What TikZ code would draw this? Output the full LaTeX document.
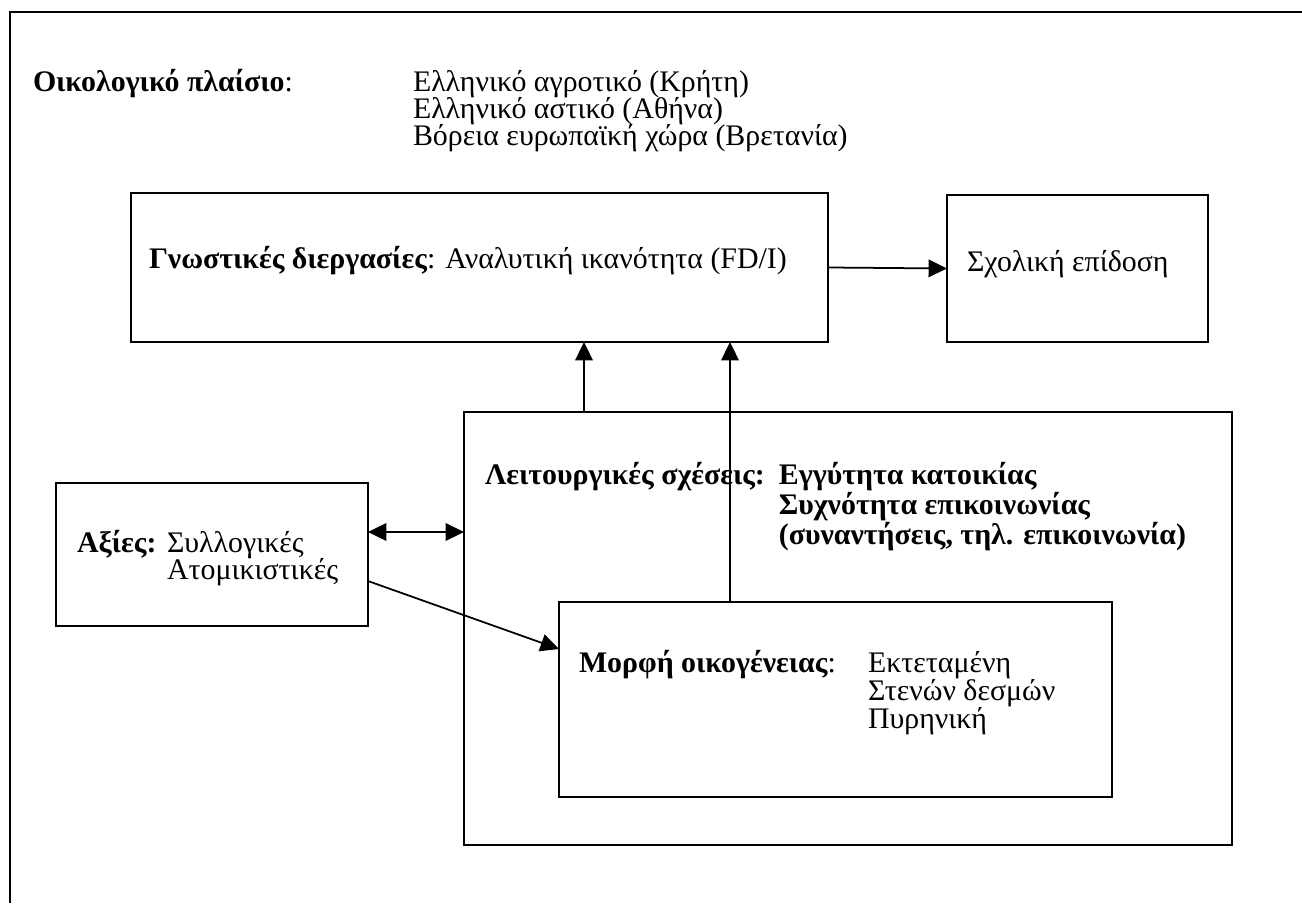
\documentclass[tikz,border=0pt]{standalone}
\usepackage{fontspec}
\setmainfont{Liberation Serif}
\usetikzlibrary{arrows.meta,positioning}
\newcommand{\stacklines}[2]{\vtop{\baselineskip=#1\lineskiplimit=-\maxdimen\lineskip=0pt\halign{##\hfil\cr#2\crcr}}}

\begin{document}
\begin{tikzpicture}[x=0.02cm,y=-0.02cm,>={Triangle[length=10.5pt,width=10pt]},line width=1pt]
			\tikzstyle{every node}=[inner sep=0pt,outer sep=0pt,font=\fontsize{17}{15.4}\selectfont]
			\tikzstyle{box}=[draw=black,line width=1.1pt,anchor=north west]
			\tikzstyle{txt}=[anchor=base west]
			
			\useasboundingbox (0,0) rectangle (1302,903);
			\draw[line width=1.2pt] (10,903) -- (10,12) -- (1302,12);
			
			\node[box,minimum width=13.94cm,minimum height=2.98cm] (cog)    at (131,193) {};
			\node[box,minimum width=5.22cm, minimum height=2.94cm] (school) at (947,195) {};
			\node[box,minimum width=15.36cm,minimum height=8.66cm] (func)   at (464,412) {};
			\node[box,minimum width=11.06cm,minimum height=3.9cm]  (fam)    at (559,602) {};
			\node[box,minimum width=6.24cm, minimum height=2.86cm] (vals)   at (56,483)  {};
			
			\node[txt] (eco)     at (33,91)  {\textbf{Οικολογικό πλαίσιο}:};
			\node[txt] (ecolist) at (413,91) {\stacklines{15.4pt}{Ελληνικό αγροτικό (Κρήτη)\cr Ελληνικό αστικό (Αθήνα)\cr Βόρεια ευρωπαϊκή χώρα (Βρετανία)}};
			\node[txt] (cogtxt)  at (149,268) {\textbf{Γνωστικές διεργασίες}: Αναλυτική ικανότητα (FD/I)};
			\node[txt] (schtxt)  at (967,271) {Σχολική επίδοση};
			\node[txt] (valtxt)  at (77,552)  {\textbf{Αξίες:}};
			\node[txt] (vallist) at (167,552) {\stacklines{15.4pt}{Συλλογικές\cr Ατομικιστικές}};
			\node[txt] (functxt) at (485,484) {\textbf{Λειτουργικές σχέσεις:}};
			\node[font=\bfseries\fontsize{17}{17}\selectfont] (funclist) [right=0.28cm of functxt.base east,anchor=base west] {\stacklines{17.2pt}{Εγγύτητα κατοικίας\cr Συχνότητα επικοινωνίας\cr (συναντήσεις, τηλ. επικοινωνία)}};
			\node[txt] (famtxt)  at (579,672) {\textbf{Μορφή οικογένειας}:};
			\node[txt] (famlist) at (868,672) {\stacklines{16pt}{Εκτεταμένη\cr Στενών δεσμών\cr Πυρηνική}};
			
			\coordinate (up1) at (584,0);
			\coordinate (up2) at (730,0);
			\coordinate (mid) at (0,532);
			\coordinate (vout) at (0,581);
			\coordinate (fin) at (0,649);
			
			\draw[->] (cog.east) -- (school.west);
			\draw[->] (func.north -| up1) -- (cog.south -| up1);
			\draw[->] (fam.north -| up2) -- (cog.south -| up2);
			\draw[<->] (vals.east |- mid) -- (func.west |- mid);
			\draw[->] (vals.east |- vout) -- (fam.west |- fin);
\end{tikzpicture}
\end{document}
